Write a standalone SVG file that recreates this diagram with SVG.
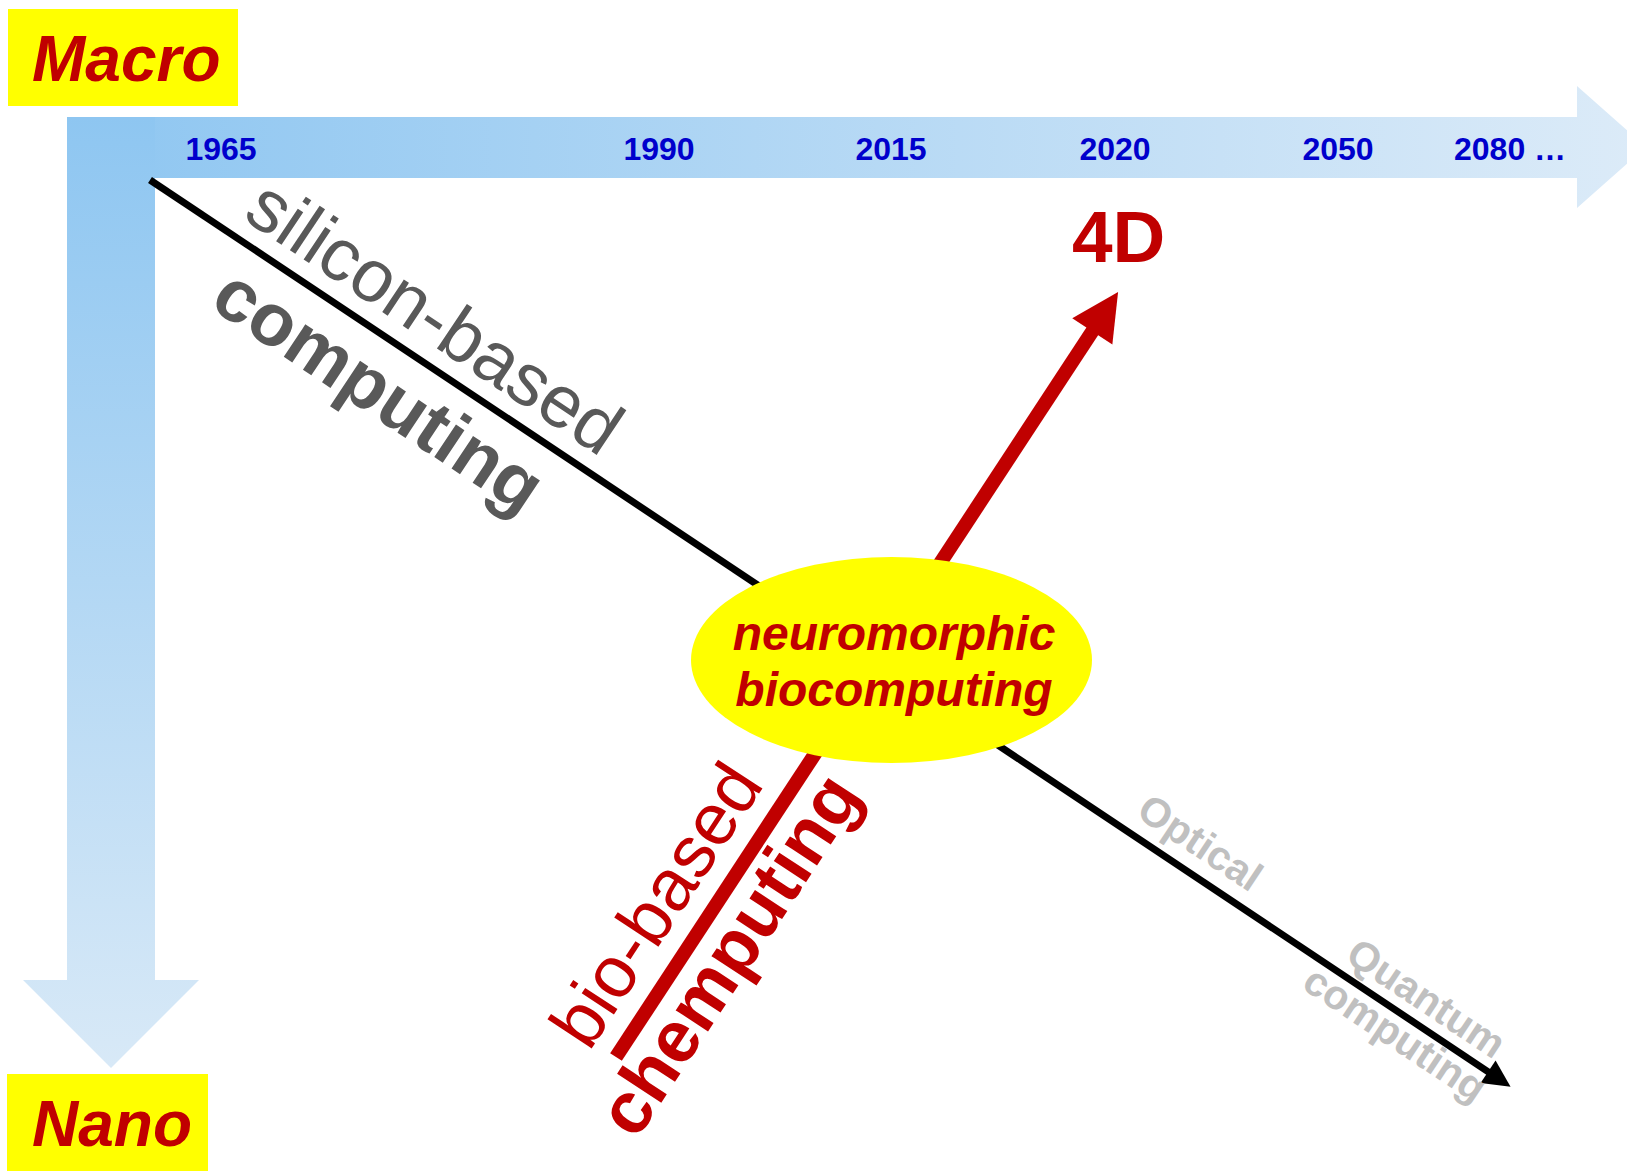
<svg xmlns="http://www.w3.org/2000/svg" width="1627" height="1171" viewBox="0 0 1627 1171">
<defs>
<linearGradient id="gh" gradientUnits="userSpaceOnUse" x1="67" y1="0" x2="1646" y2="0">
<stop offset="0" stop-color="#8EC6F1"/><stop offset="1" stop-color="#DCEBF8"/>
</linearGradient>
<linearGradient id="gv" gradientUnits="userSpaceOnUse" x1="0" y1="117" x2="0" y2="1068">
<stop offset="0" stop-color="#8EC6F1"/><stop offset="1" stop-color="#D8E9F7"/>
</linearGradient>
<style>
.lbl{font-family:"Liberation Sans",Arial,sans-serif;font-weight:bold;font-style:italic;fill:#C00000;}
.yr{font-family:"Liberation Sans",Arial,sans-serif;font-weight:bold;font-size:32px;fill:#0000CC;text-anchor:middle;}
.sil{font-family:"Liberation Sans",Arial,sans-serif;font-size:74px;fill:#595959;}
.red{font-family:"Liberation Sans",Arial,sans-serif;font-size:73px;fill:#C00000;}
.gr{font-family:"Liberation Sans",Arial,sans-serif;font-weight:bold;font-size:41px;fill:#C0C0C0;}
.b{font-weight:bold;}
</style>
</defs>
<rect width="1627" height="1171" fill="#FFFFFF"/>
<g id="axis-time">
<polygon points="67,117 1577,117 1577,86 1646,147 1577,208 1577,178 67,178" fill="url(#gh)"/>
</g>
<g id="axis-scale">
<polygon points="67,117 155,117 155,980 199,980 111,1068 23,980 67,980" fill="url(#gv)"/>
</g>
<g id="years">
<text class="yr" x="221" y="160">1965</text>
<text class="yr" x="659" y="160">1990</text>
<text class="yr" x="891" y="160">2015</text>
<text class="yr" x="1115" y="160">2020</text>
<text class="yr" x="1338" y="160">2050</text>
<text class="yr" x="1454" y="160" style="text-anchor:start">2080 …</text>
</g>
<g id="node-macro">
<rect x="8" y="9" width="230" height="97" fill="#FFFF00"/>
<text class="lbl" x="32" y="81" font-size="64">Macro</text>
</g>
<g id="node-nano">
<rect x="7" y="1074" width="201" height="97" fill="#FFFF00"/>
<text class="lbl" x="32" y="1146" font-size="64">Nano</text>
</g>
<g id="connectors">
<g id="silicon-line" transform="translate(150,180) rotate(33.68)">
<line x1="0" y1="0" x2="1610" y2="0" stroke="#000000" stroke-width="7"/>
<polygon points="1608,-13.5 1635,0 1608,13.5" fill="#000000"/>
</g>
<g id="bio-arrow" transform="translate(616,1057) rotate(-56.72)">
<line x1="0" y1="0" x2="870" y2="0" stroke="#C00000" stroke-width="14"/>
<polygon points="868,-24 915,0 868,24" fill="#C00000"/>
</g>
</g>
<g id="labels-silicon" transform="translate(150,180) rotate(33.68)">
<text class="sil" x="97" y="-19" font-size="73">silicon-based</text>
<text class="sil b" x="118" y="73">computing</text>
<text class="gr" x="1172" y="-17">Optical</text>
<text class="gr" x="1426" y="-13">Quantum</text>
<text class="gr" x="1405" y="34">computing</text>
</g>
<g id="labels-bio" transform="translate(616,1057) rotate(-56.72)">
<text class="red" x="-11" y="-25">bio-based</text>
<text class="red b" x="-59" y="63">chemputing</text>
</g>
<g id="node-4d">
<text class="lbl" x="1072" y="262" font-size="73" style="font-style:normal">4D</text>
</g>
<g id="node-neuro">
<ellipse cx="891.5" cy="660" rx="200.5" ry="103" fill="#FFFF00"/>
<text class="lbl" x="894" y="650" font-size="48" text-anchor="middle">neuromorphic</text>
<text class="lbl" x="894" y="706" font-size="48" text-anchor="middle">biocomputing</text>
</g>
</svg>
